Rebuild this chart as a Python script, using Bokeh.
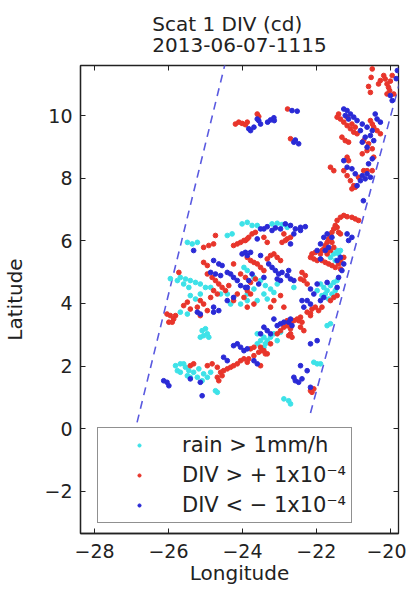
from bokeh.plotting import figure
from bokeh.models import Range1d, FixedTicker, LinearAxis, Legend, LegendItem
from bokeh.embed import file_html
from bokeh.resources import INLINE

# ---------------- data ----------------
title_lines = ["Scat 1 DIV (cd)", "2013-06-07-1115"]
x_label = "Longitude"
y_label = "Latitude"
x_ticks = [-28, -26, -24, -22, -20]
y_ticks = [-2, 0, 2, 4, 6, 8, 10]
legend_labels = ["rain > 1mm/h", "DIV > + 1x10\u207b\u2074", "DIV < \u2212 1x10\u207b\u2074"]

# swath edges (dashed)
swath_left_lon = [-26.85, -24.45]
swath_left_lat = [0.2, 11.75]
swath_right_lon = [-22.16, -19.59]
swath_right_lat = [0.5, 11.75]

# rain > 1 mm/h (cyan)
rain_lon = [-21.71, -21.62, -21.53, -21.49, -21.44, -21.40, -21.35,
            -21.89, -21.80, -21.71, -21.62, -21.53, -21.44, -21.98, -21.85, -21.76, -21.67, -21.58, -21.49,
            -24.01, -23.87, -23.74, -23.20, -23.06, -22.93, -22.79, -23.60, -25.49, -25.36, -25.22, -24.41, -24.28,
            -23.96, -23.87, -23.69, -23.51, -23.38, -23.24, -23.15, -23.69, -23.87, -23.42, -23.33, -23.60, -23.06, -22.61,
            -25.68, -25.54, -25.41, -25.27, -25.14, -25.00, -25.59, -25.45, -25.76, -25.95, -24.86, -24.59, -24.41,
            -25.14, -25.41, -25.27, -24.05, -23.87, -24.32,
            -25.68, -25.49, -25.09, -25.00, -24.95, -25.05, -25.14, -24.91,
            -25.81, -25.68, -25.54, -25.45, -25.32, -25.18, -25.05, -24.95, -24.86, -25.68, -25.49, -25.22, -25.09,
            -25.76, -25.59, -25.41, -24.73, -24.68,
            -23.60, -23.42, -23.51, -23.33, -23.60, -23.24, -23.06, -23.38, -23.15, -22.97, -23.42,
            -21.71, -21.62, -22.07, -21.98, -21.89, -22.88, -22.75, -22.70]
rain_lat = [5.69, 5.47, 5.58, 5.37, 5.69, 5.58, 5.69,
            4.62, 4.51, 4.41, 4.57, 4.67, 4.73, 4.41, 4.25, 4.30, 4.14, 4.30, 4.41,
            6.54, 6.59, 6.49, 6.54, 6.56, 6.52, 6.43, 6.49, 5.95, 5.90, 5.95, 6.17, 6.22,
            5.15, 5.05, 4.83, 4.73, 4.57, 4.46, 4.35, 4.46, 4.30, 4.30, 4.14, 4.09, 4.62, 4.51,
            4.83, 4.78, 4.73, 4.67, 4.62, 4.51, 4.62, 4.51, 4.73, 4.79, 4.51, 4.30, 4.30,
            4.30, 4.25, 4.14, 3.98, 4.09, 3.98,
            3.72, 3.66, 3.13, 3.19, 3.03, 2.97, 2.92, 2.92,
            2.01, 2.07, 1.96, 1.85, 1.80, 1.91, 1.75, 1.64, 1.80, 1.80, 1.69, 1.64, 1.53,
            1.85, 2.07, 1.64, 1.21, 1.16,
            3.03, 2.92, 2.81, 2.81, 2.71, 2.92, 2.81, 2.71, 3.03, 3.08, 2.60,
            3.29, 3.35, 2.12, 2.07, 2.07, 0.95, 0.89, 0.79]

# DIV > +1e-4 (red)
divpos_lon = [-20.49, -20.52, -20.59, -20.54, -20.32, -20.27, -20.14, -20.09, -20.05, -20.00, -20.02, -19.91, -20.09, -20.18, -19.95,
              -24.19, -24.10, -24.01, -23.92, -23.87, -23.60, -23.56, -22.78, -22.70,
              -21.40, -21.35, -21.26, -21.17, -21.08, -20.99, -20.90, -21.44, -21.17, -21.04, -20.95, -20.54, -20.49,
              -20.45, -20.36, -20.27, -21.31, -21.22, -21.13, -20.72, -20.59, -20.63, -20.76, -20.49, -20.45, -21.62,
              -21.53, -21.17, -21.13, -21.26, -21.17, -21.08, -20.99, -21.04, -20.95, -20.86, -20.72, -20.63, -20.49,
              -21.35, -21.26, -21.17, -21.04, -20.95, -20.86, -21.44, -21.49, -21.53, -21.58, -21.62, -21.67, -21.71,
              -21.76, -21.80, -21.85, -21.89, -21.44, -21.40, -21.35, -21.58, -21.53, -21.62, -21.71, -22.03, -22.12,
              -22.16, -22.07, -21.98, -21.85, -21.76, -21.67, -21.58, -21.49, -21.35, -21.26, -21.35, -21.40,
              -22.25, -22.12, -22.03, -21.94, -21.85, -21.62, -21.53, -21.44, -22.16,
              -23.92, -23.83, -23.74, -23.65, -22.88, -22.79, -22.70, -22.93, -22.84, -23.33, -23.42,
              -23.87, -23.78, -23.69, -23.60, -23.51, -23.42, -23.33, -23.24, -23.15, -23.06, -22.97,
              -23.78, -23.65, -23.92, -22.39, -22.30, -22.34, -22.25, -22.43, -23.15, -22.97, -23.24, -22.88, -23.87, -23.69,
              -25.05, -24.91, -24.78, -24.73, -24.24, -24.14, -24.05, -23.96, -23.87,
              -25.05, -24.95, -24.95, -24.82, -24.73, -24.64, -24.55, -24.46, -24.37, -24.24, -24.05, -24.78, -24.68,
              -24.86, -25.14, -25.05, -25.22, -25.49, -25.59, -25.41, -24.95, -24.24, -24.14, -23.96, -23.87, -23.78, -25.72,
              -25.95, -25.86, -25.90, -25.81, -26.04, -25.99, -25.14,
              -25.41, -25.32, -24.95, -24.82, -24.68, -24.59, -24.51, -24.41, -24.32, -24.24, -24.14, -24.05, -23.96,
              -23.87, -24.68, -24.55, -24.64, -23.78, -23.69, -23.51, -23.42, -23.33, -23.24, -23.06, -22.97, -22.88,
              -22.79, -22.70, -22.61, -22.52, -22.43, -22.43, -22.34, -22.70, -22.70, -22.75, -22.66, -22.79, -22.48,
              -22.39, -22.16, -23.83, -23.69, -23.56, -23.47, -23.38, -23.51, -22.16, -22.07, -22.12]
divpos_lat = [11.49, 11.22, 10.93, 10.74, 11.01, 11.12, 11.17, 11.01, 10.90, 11.10, 10.80, 10.69, 10.69, 11.28, 11.28,
              9.73, 9.79, 9.75, 9.71, 9.79, 10.05, 9.97, 10.21, 9.26,
              10.05, 9.89, 9.79, 9.68, 9.58, 9.47, 9.42, 9.95, 9.95, 9.73, 9.63, 9.84, 9.73,
              9.63, 9.52, 9.42, 9.31, 9.20, 9.15, 9.20, 9.10, 8.88, 8.78, 8.94, 8.67, 8.35,
              8.24, 8.67, 8.56, 8.24, 8.08, 7.92, 7.76, 7.66, 7.71, 8.03, 8.24, 8.24, 8.24,
              6.75, 6.81, 6.77, 6.75, 6.70, 6.65, 6.65, 6.49, 6.38, 6.27, 6.17, 6.06, 5.95,
              5.85, 5.74, 5.69, 5.58, 6.43, 6.27, 6.22, 5.95, 5.79, 5.69, 5.58, 5.63, 5.58,
              5.47, 5.42, 5.37, 5.37, 5.31, 5.26, 5.21, 5.15, 5.10, 5.47, 5.37, 5.26,
              3.72, 3.82, 3.88, 3.77, 3.88, 4.09, 4.19, 4.25, 3.61,
              6.01, 6.11, 6.22, 6.27, 6.22, 6.06, 6.11, 5.95, 6.01, 5.95, 6.11,
              5.47, 5.37, 5.31, 5.26, 5.15, 5.05, 5.42, 5.53, 5.58, 5.47, 5.37,
              4.67, 4.78, 4.83, 4.99, 4.89, 4.73, 4.62, 4.78, 4.09, 4.25, 3.88, 3.88, 3.88, 3.98,
              5.79, 5.85, 5.90, 6.17, 5.85, 5.90, 5.95, 6.01, 6.06,
              5.31, 5.21, 4.94, 4.83, 4.73, 4.62, 4.51, 4.41, 4.57, 5.26, 4.94, 4.41, 4.30,
              4.19, 4.09, 3.98, 3.88, 4.04, 3.93, 3.82, 3.77, 4.09, 4.30, 4.19, 4.41, 4.30, 4.99,
              3.61, 3.50, 3.40, 3.61, 3.66, 3.40, 3.61,
              2.01, 2.07, 2.01, 2.07, 1.96, 1.80, 1.85, 1.91, 1.96, 2.01, 2.07, 2.17, 2.23,
              2.12, 1.64, 1.69, 1.53, 2.55, 2.60, 2.60, 2.49, 2.39, 2.71, 3.03, 3.13, 3.24,
              3.29, 3.35, 3.45, 3.50, 3.56, 3.24, 3.13, 3.03, 3.19, 2.97, 2.92, 3.45, 3.45,
              3.40, 3.68, 2.23, 2.33, 2.44, 2.49, 2.39, 2.01, 1.21, 1.27, 1.16]

# DIV < -1e-4 (blue)
divneg_lon = [-19.81, -19.84, -20.00, -19.95,
              -23.83, -23.78, -23.69, -23.56, -23.51, -23.60, -23.32, -23.24, -23.15, -23.14, -22.66, -22.52,
              -22.61, -22.48, -22.57,
              -21.26, -21.17, -21.08, -20.99, -20.90, -20.76, -20.63, -20.49, -20.36, -20.27, -20.41, -21.13,
              -21.22, -20.81, -20.68, -20.54, -20.45, -20.63, -20.76, -21.26, -21.17, -21.04, -20.95, -20.76,
              -20.63, -20.68, -20.54, -20.81, -20.90, -20.59, -20.49,
              -21.80, -21.71, -21.58, -21.17, -21.13, -21.04, -21.76, -21.67, -21.89, -21.98, -21.35, -21.26,
              -21.31, -21.44, -21.89, -20.73,
              -22.16, -22.07, -22.25, -22.16, -22.34, -22.39, -21.98, -21.71, -21.44, -21.40, -21.80, -21.89,
              -23.42, -23.33, -23.20, -23.11, -22.97, -22.84, -22.70, -22.57, -22.43, -22.30, -23.60, -22.70,
              -22.61, -22.43, -23.51,
              -24.01, -23.92, -23.51, -23.29, -23.20, -23.11, -23.02, -22.93, -22.79, -22.70, -22.75, -22.61,
              -22.97, -23.06, -23.42, -23.74, -23.83, -23.56, -23.92,
              -25.32, -23.87, -23.78, -24.78, -24.64, -24.55, -24.41, -24.32, -24.24, -24.14, -24.86, -24.73,
              -24.59, -24.05, -23.87, -24.24, -24.41, -24.78, -24.64,
              -25.22, -25.14, -24.78, -24.24, -24.14, -24.05, -23.96, -23.87, -24.51, -24.41, -26.13, -26.04,
              -25.99, -25.41, -25.14, -25.09, -23.42, -23.33, -23.24, -23.06, -22.97, -22.88, -23.15, -22.70,
              -23.69, -23.60, -23.51, -22.75, -22.66,
              -21.98, -22.43, -22.25, -22.61, -22.57, -22.48, -22.39, -22.16, -22.16]
divneg_lat = [11.44, 11.18, 10.64, 10.48,
              9.58, 9.52, 9.63, 9.84, 9.73, 9.89, 9.79, 9.86, 9.93, 9.84, 10.16, 10.14,
              9.15, 9.10, 9.22,
              10.21, 10.16, 10.05, 9.95, 9.84, 9.73, 9.63, 9.52, 9.89, 9.79, 10.05, 9.89,
              10.00, 9.52, 9.31, 9.36, 9.20, 8.99, 9.15, 8.56, 8.35, 8.30, 8.14, 8.08,
              8.14, 7.98, 8.03, 7.92, 7.76, 8.46, 8.62,
              6.11, 6.22, 6.11, 6.22, 6.01, 6.11, 5.69, 5.79, 5.90, 5.69, 5.47, 5.26,
              5.05, 5.37, 5.42, 7.28,
              4.46, 4.30, 4.09, 3.98, 3.88, 4.09, 4.62, 4.67, 4.51, 4.83, 4.19, 4.09,
              6.38, 6.45, 6.33, 6.41, 6.38, 6.54, 6.49, 6.38, 6.43, 6.45, 6.06, 5.90,
              6.22, 6.33, 6.38,
              5.58, 5.63, 5.53, 5.26, 5.15, 5.05, 4.94, 4.99, 4.89, 4.78, 5.05, 4.73,
              4.73, 4.78, 4.83, 4.94, 4.73, 4.62, 4.51,
              5.69, 5.53, 5.63, 5.37, 5.26, 5.21, 4.99, 4.94, 4.83, 4.73, 4.99, 4.94,
              4.89, 4.57, 4.51, 4.19, 4.09, 3.88, 3.77,
              3.72, 3.66, 3.72, 2.65, 2.71, 2.60, 2.49, 2.55, 2.28, 2.17, 1.53, 1.48,
              1.37, 1.59, 1.48, 1.05, 3.24, 3.13, 3.03, 3.29, 3.35, 3.40, 3.50, 3.50,
              2.17, 2.07, 3.03, 3.40, 3.29,
              2.81, 2.01, 1.85, 1.64, 1.53, 1.48, 1.59, 1.32, 2.71]

# ---------------- style ----------------
FONT = "DejaVu Sans"
TXT = "#222222"
CYAN = "#3de2e8"
RED = "#e8352b"
BLUE = "#2a2ad6"
SWATH = "#5a5ae0"

p = figure(width=406, height=589,
           x_range=Range1d(-28.38, -19.78), y_range=Range1d(-3.35, 11.6),
           output_backend="svg", toolbar_location=None,
           min_border_left=80, min_border_right=8, min_border_top=65, min_border_bottom=56)

p.title.text = "\n".join(title_lines)
p.title.align = "center"
p.title.text_font = FONT
p.title.text_font_size = "20px"
p.title.text_font_style = "normal"
p.title.text_color = TXT
p.title.text_line_height = 0.88
p.title.standoff = 17

p.xgrid.visible = False
p.ygrid.visible = False
p.outline_line_color = TXT
p.outline_line_width = 1.3
p.background_fill_color = "white"
p.border_fill_color = "white"

for ax, ticks, lab in ((p.xaxis, x_ticks, x_label), (p.yaxis, y_ticks, y_label)):
    ax.ticker = FixedTicker(ticks=ticks)
    ax.axis_label = lab
    ax.axis_label_text_font = FONT
    ax.axis_label_text_font_size = "20px"
    ax.axis_label_text_font_style = "normal"
    ax.axis_label_text_color = TXT
    ax.axis_label_text_line_height = 0.9
    ax.major_label_text_font = FONT
    ax.major_label_text_font_size = "19px"
    ax.major_label_text_color = TXT
    ax.major_label_text_line_height = 0.9
    ax.major_tick_in = 5
    ax.major_tick_out = 0
    ax.major_tick_line_color = TXT
    ax.minor_tick_line_color = None
    ax.axis_line_color = TXT
    ax.axis_line_width = 1.3
p.xaxis.major_label_standoff = 10
p.xaxis.axis_label_standoff = 0
p.yaxis.major_label_standoff = 8
p.yaxis.axis_label_standoff = 14

# inside ticks on top and right like the original box (no labels)
top_ax = LinearAxis(ticker=FixedTicker(ticks=x_ticks),
                    major_label_overrides={t: "" for t in x_ticks},
                    major_label_text_color=None, major_label_standoff=0,
                    major_tick_in=5, major_tick_out=0,
                    major_tick_line_color=TXT, minor_tick_line_color=None, axis_line_color=None)
right_ax = LinearAxis(ticker=FixedTicker(ticks=y_ticks),
                      major_label_overrides={t: "" for t in y_ticks},
                      major_label_text_color=None, major_label_standoff=0,
                      major_tick_in=5, major_tick_out=0,
                      major_tick_line_color=TXT, minor_tick_line_color=None, axis_line_color=None)
p.add_layout(top_ax, "above")
p.add_layout(right_ax, "right")

p.line(swath_left_lon, swath_left_lat, line_color=SWATH, line_width=1.6, line_dash="8 6")
p.line(swath_right_lon, swath_right_lat, line_color=SWATH, line_width=1.6, line_dash="8 6")

r_rain = p.scatter(rain_lon, rain_lat, marker="circle", size=4.7, fill_color=CYAN, line_color=CYAN)
r_pos = p.scatter(divpos_lon, divpos_lat, marker="circle", size=4.7, fill_color=RED, line_color=RED)
r_neg = p.scatter(divneg_lon, divneg_lat, marker="circle", size=4.7, fill_color=BLUE, line_color=BLUE)

legend = Legend(items=[LegendItem(label=legend_labels[0], renderers=[r_rain]),
                       LegendItem(label=legend_labels[1], renderers=[r_pos]),
                       LegendItem(label=legend_labels[2], renderers=[r_neg])],
                location=(17, 10))
legend.label_text_font = FONT
legend.label_text_font_size = "21px"
legend.label_text_color = TXT
legend.glyph_width = 72
legend.glyph_height = 8
legend.label_height = 24
legend.label_standoff = 7
legend.padding = 5
legend.spacing = 6
legend.margin = 0
legend.border_line_color = TXT
legend.border_line_width = 1.3
legend.background_fill_color = "white"
legend.background_fill_alpha = 1.0
p.add_layout(legend)

open("out.html", "w").write(file_html(p, INLINE))
